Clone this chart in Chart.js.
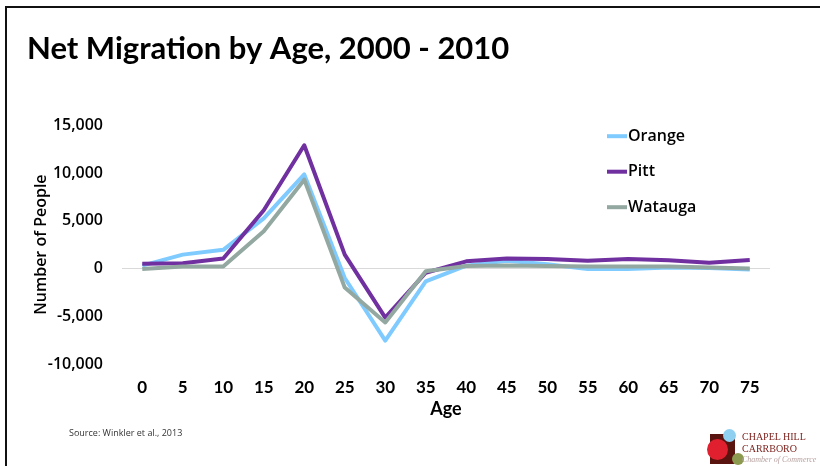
<!DOCTYPE html>
<html>
<head>
<meta charset="utf-8">
<script src="https://cdn.jsdelivr.net/npm/chart.js@4/dist/chart.umd.min.js"></script>
<style>
  body { margin: 0; background: #fff; }
  #wrap { position: relative; width: 820px; height: 466px; overflow: hidden; }
  #chart { position: absolute; left: 0; top: 0; }
  .frame-top { position: absolute; left: 5px; top: 6px; width: 815px; height: 2px; background: #111; }
  .frame-left { position: absolute; left: 5px; top: 6px; width: 2px; height: 460px; background: #111; }
  .source { position: absolute; left: 69px; top: 426px; font: 9px "Open Sans", sans-serif; color: #333; }
  .logo { position: absolute; left: 708px; top: 428px; width: 112px; height: 38px; }
  .logo .sq { position: absolute; left: 2px; top: 6px; width: 25px; height: 30px; background: #5a1410; }
  .logo .c { position: absolute; border-radius: 50%; }
  .logo .txt { position: absolute; left: 34px; font-family: "Liberation Serif", serif; color: #7a1f1a; white-space: nowrap; }
</style>
</head>
<body>
<div id="wrap">
  <canvas id="chart" width="820" height="466"></canvas>
  <div class="frame-top"></div>
  <div class="frame-left"></div>
  <div class="source">Source: Winkler et al., 2013</div>
  <div class="logo">
    <div class="sq"></div>
    <div class="c" style="left:15px;top:1px;width:13px;height:13px;background:#8fd0f0;"></div>
    <div class="c" style="left:-1px;top:11px;width:21px;height:21px;background:#e0202e;"></div>
    <div class="c" style="left:24px;top:25px;width:12px;height:12px;background:#8c9a50;"></div>
    <div class="txt" style="top:3px;font-size:10px;">CHAPEL HILL</div>
    <div class="txt" style="top:15px;font-size:10px;">CARRBORO</div>
    <div class="txt" style="top:27px;font-size:8px;font-style:italic;color:#b8a0a0;">Chamber of Commerce</div>
  </div>
</div>
<script>
const ages = ["0", "5", "10", "15", "20", "25", "30", "35", "40", "45", "50", "55", "60", "65", "70", "75"];
const orange = [300, 1450, 1950, 5250, 9850, -1000, -7550, -1350, 300, 800, 450, -50, -50, 100, 50, -100];
const pitt = [500, 550, 1050, 6100, 12900, 1450, -5150, -450, 750, 1050, 1000, 800, 1000, 850, 600, 900];
const watauga = [-50, 200, 200, 3900, 9300, -2000, -5650, -300, 250, 300, 250, 200, 200, 200, 100, 0];

const seriesNames = ["Orange", "Pitt", "Watauga"];
const seriesColors = ["#7fcbff", "#7030a0", "#93a8a0"];
const yTicks = [-10000, -5000, 0, 5000, 10000, 15000];

const narrow = "Lato, sans-serif";
const sans = "'Open Sans', sans-serif";

// legend drawn at the upper right, inside the plot
const sideLegend = {
    id: "sideLegend",
    afterDraw(chart) {
        let ctx = chart.ctx;
        let area = chart.chartArea;
        ctx.save();
        ctx.font = "600 16px " + sans;
        ctx.textBaseline = "middle";
        chart.data.datasets.forEach(function(ds, i) {
            let x = area.right - 163;
            let y = area.top + 11 + i * 35.5;
            ctx.strokeStyle = ds.borderColor;
            ctx.lineWidth = 4;
            ctx.beginPath();
            ctx.moveTo(x, y);
            ctx.lineTo(x + 20, y);
            ctx.stroke();
            ctx.fillStyle = "#000";
            ctx.fillText(ds.label, x + 21, y);
        });
        ctx.restore();
    }
};

const datasets = [orange, pitt, watauga].map(function(values, i) {
    return {
        label: seriesNames[i],
        data: values,
        borderColor: seriesColors[i],
        backgroundColor: seriesColors[i],
        borderWidth: 4,
        pointRadius: 0,
        tension: 0,
        borderJoinStyle: "round",
        order: 3 - i
    };
});

new Chart(document.getElementById("chart"), {
    type: "line",
    data: { labels: ages, datasets: datasets },
    plugins: [sideLegend],
    options: {
        responsive: false,
        animation: false,
        layout: { padding: { left: 27, right: 50, top: 0, bottom: 42 } },
        plugins: {
            legend: { display: false },
            tooltip: { enabled: false },
            title: {
                display: true,
                text: "Net Migration by Age, 2000 - 2010",
                align: "start",
                color: "#000",
                font: { family: narrow, size: 31, weight: "bold", lineHeight: 1.2 },
                padding: { top: 30, bottom: 58 }
            }
        },
        scales: {
            x: {
                offset: true,
                grid: { display: false, drawTicks: false },
                border: { display: false },
                ticks: { color: "#000", padding: 13, maxRotation: 0, font: { family: narrow, size: 17, weight: "bold" } },
                title: { display: true, text: "Age", color: "#000", padding: { top: 0, bottom: 4 }, font: { family: narrow, size: 18, weight: "bold" } },
                afterFit(scale) { scale.height = 60; }
            },
            y: {
                min: -10000,
                max: 15000,
                afterBuildTicks(scale) { scale.ticks = yTicks.map(function(v) { return { value: v }; }); },
                grid: {
                    drawTicks: false,
                    color: function(c) { return c.tick && c.tick.value === 0 ? "#d9d9d9" : "rgba(0,0,0,0)"; },
                    lineWidth: 1
                },
                border: { display: false },
                ticks: {
                    color: "#000",
                    padding: 19,
                    font: { family: sans, size: 16, weight: "600" },
                    callback: function(v) { return v.toLocaleString("en-US"); }
                },
                title: { display: true, text: "Number of People", color: "#000", padding: { top: 5, bottom: 0 }, font: { family: sans, size: 16, weight: "600" } },
                afterFit(scale) { scale.width = 95; }
            }
        }
    }
});
</script>
</body>
</html>
